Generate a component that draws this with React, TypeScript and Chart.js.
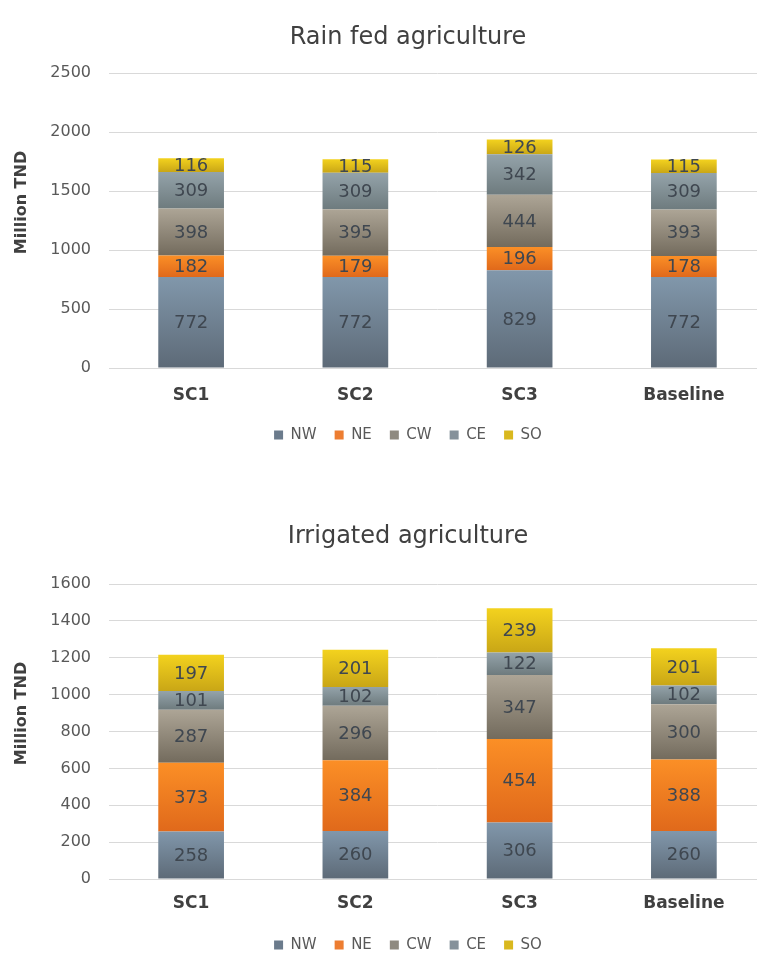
import React, { useEffect, useRef } from "react";
import { Chart, registerables } from "chart.js";

Chart.register(...registerables);
Chart.defaults.font.family = "'DejaVu Sans', Verdana, sans-serif";

// Scenario categories
const categories = ["SC1", "SC2", "SC3", "Baseline"];
const regions = ["NW", "NE", "CW", "CE", "SO"];

// Rain fed agriculture, million TND per region
const rainNW = [772, 772, 829, 772];
const rainNE = [182, 179, 196, 178];
const rainCW = [398, 395, 444, 393];
const rainCE = [309, 309, 342, 309];
const rainSO = [116, 115, 126, 115];

// Irrigated agriculture, million TND per region
const irrNW = [258, 260, 306, 260];
const irrNE = [373, 384, 454, 388];
const irrCW = [287, 296, 347, 300];
const irrCE = [101, 102, 122, 102];
const irrSO = [197, 201, 239, 201];

// Axis ranges
const rainAxis = { max: 2500, step: 500 };
const irrAxis = { max: 1600, step: 200 };

// Segment shading: lighter at the top of each block, darker at its foot
const palette = [
  { top: "#8197ab", bottom: "#5d6a77", key: "#6b7b8c" },
  { top: "#fb8f26", bottom: "#e0691b", key: "#ed7d31" },
  { top: "#ada596", bottom: "#736b5d", key: "#8f8a80" },
  { top: "#94a3aa", bottom: "#6e7b7e", key: "#85919a" },
  { top: "#f3d21e", bottom: "#c9a616", key: "#d9b81e" },
];

function segmentFill(sets: number[][], k: number) {
  const c = palette[k];
  return (ctx: any) => {
    const chart = ctx.chart;
    const y = chart.scales && chart.scales.y;
    if (ctx.type !== "data" || !y) return c.key;
    const i = ctx.dataIndex;
    let base = 0;
    for (let j = 0; j < k; j++) base += sets[j][i];
    const end = base + sets[k][i];
    const y0 = y.getPixelForValue(end);
    const y1 = y.getPixelForValue(base);
    if (!isFinite(y0) || !isFinite(y1) || Math.abs(y1 - y0) < 1) return c.key;
    const g = chart.ctx.createLinearGradient(0, y0, 0, y1);
    g.addColorStop(0, c.top);
    g.addColorStop(1, c.bottom);
    return g;
  };
}

// Values written in the middle of each stacked block
const segmentLabels = {
  id: "segmentLabels",
  afterDatasetsDraw(chart: any) {
    const ctx = chart.ctx;
    ctx.save();
    ctx.font = "18px 'DejaVu Sans', Verdana, sans-serif";
    ctx.fillStyle = "#3f4750";
    ctx.textAlign = "center";
    ctx.textBaseline = "middle";
    chart.data.datasets.forEach((ds: any, di: number) => {
      const meta = chart.getDatasetMeta(di);
      meta.data.forEach((el: any, i: number) => {
        const v = ds.data[i];
        ctx.fillText(String(v), el.x, (el.y + el.base) / 2 + 1);
      });
    });
    ctx.restore();
  },
};

// Rotated value-axis caption
const axisCaption = {
  id: "axisCaption",
  afterDraw(chart: any, _args: any, opts: any) {
    const { ctx, chartArea } = chart;
    ctx.save();
    ctx.translate(opts.x, (chartArea.top + chartArea.bottom) / 2 + opts.shift);
    ctx.rotate(-Math.PI / 2);
    ctx.font = "bold 16px 'DejaVu Sans', Verdana, sans-serif";
    ctx.fillStyle = "#404040";
    ctx.textAlign = "center";
    ctx.textBaseline = "middle";
    ctx.fillText(opts.text, 0, 0);
    ctx.restore();
  },
};

type Props = {
  title: string;
  sets: number[][];
  axis: { max: number; step: number };
  height: number;
  titlePad: { top: number; bottom: number };
  xAxisHeight: number;
  xTickPad: number;
  bottomPad: number;
};

function StackChart({ title, sets, axis, height, titlePad, xAxisHeight, xTickPad, bottomPad }: Props) {
  const ref = useRef<HTMLCanvasElement | null>(null);
  useEffect(() => {
    if (!ref.current) return;
    const chart = new Chart(ref.current, {
      type: "bar",
      data: {
        labels: categories,
        datasets: regions.map((r, k) => ({
          label: r,
          data: sets[k],
          backgroundColor: segmentFill(sets, k),
          borderWidth: 0,
          categoryPercentage: 1,
          barPercentage: 0.4,
        })),
      },
      options: {
        responsive: false,
        animation: false,
        devicePixelRatio: 1,
        layout: { padding: { top: 10, left: 50, right: 14, bottom: bottomPad } },
        scales: {
          x: {
            stacked: true,
            grid: { display: false, drawTicks: false },
            border: { display: true, color: "#d9d9d9" },
            ticks: { color: "#404040", font: { size: 17, weight: "bold" }, padding: xTickPad },
            afterFit: (s: any) => {
              s.height = xAxisHeight;
            },
          },
          y: {
            stacked: true,
            min: 0,
            max: axis.max,
            grid: { color: "#d9d9d9", drawTicks: false },
            border: { display: false },
            ticks: {
              stepSize: axis.step,
              color: "#595959",
              font: { size: 16 },
              padding: 18,
              callback: (v: any) => String(v),
            },
            afterFit: (s: any) => {
              s.width = 59;
            },
          },
        },
        plugins: {
          title: {
            display: true,
            text: title,
            color: "#404040",
            font: { size: 24, weight: "normal" },
            padding: titlePad,
          },
          legend: {
            position: "bottom",
            labels: {
              color: "#595959",
              font: { size: 15 },
              boxWidth: 9,
              boxHeight: 9,
              padding: 18,
              generateLabels: (ch: any) =>
                ch.data.datasets.map((ds: any, k: number) => ({
                  text: ds.label,
                  fillStyle: palette[k].key,
                  strokeStyle: palette[k].key,
                  lineWidth: 0,
                  fontColor: "#595959",
                  datasetIndex: k,
                  hidden: false,
                })),
            },
          },
          tooltip: { enabled: false },
          axisCaption: { text: "Million TND", x: 22, shift: -18 },
        } as any,
      },
      plugins: [segmentLabels, axisCaption],
    });
    return () => chart.destroy();
  }, []);
  return <canvas ref={ref} width={780} height={height} style={{ display: "block", width: 780, height }} />;
}

export default function App() {
  return (
    <div
      style={{
        position: "fixed",
        left: 0,
        top: 0,
        width: 757,
        height: 957,
        overflow: "hidden",
        background: "#ffffff",
      }}
    >
      <StackChart
        title="Rain fed agriculture"
        sets={[rainNW, rainNE, rainCW, rainCE, rainSO]}
        axis={rainAxis}
        height={480}
        titlePad={{ top: 13.6, bottom: 20.6 }}
        xAxisHeight={41.5}
        xTickPad={17}
        bottomPad={27.5}
      />
      <StackChart
        title="Irrigated agriculture"
        sets={[irrNW, irrNE, irrCW, irrCE, irrSO]}
        axis={irrAxis}
        height={500}
        titlePad={{ top: 32.6, bottom: 32.6 }}
        xAxisHeight={40.5}
        xTickPad={14}
        bottomPad={17.5}
      />
    </div>
  );
}
